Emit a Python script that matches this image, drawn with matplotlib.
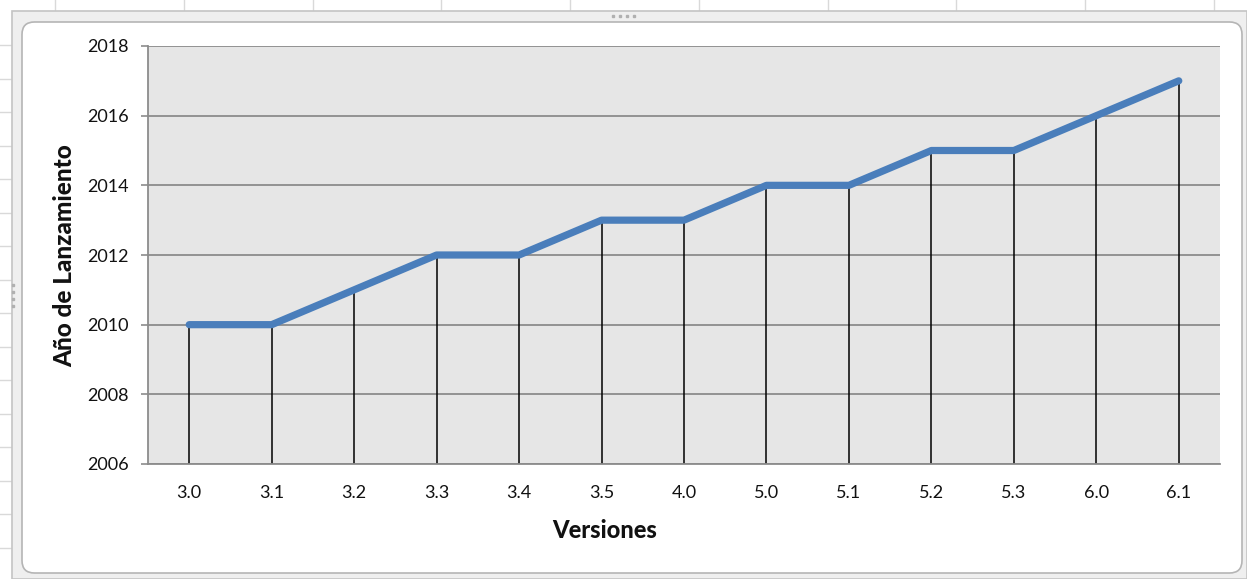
import matplotlib
matplotlib.use("Agg")
import matplotlib.pyplot as plt
from matplotlib.patches import FancyBboxPatch, Rectangle
from matplotlib.lines import Line2D

versiones = ["3.0", "3.1", "3.2", "3.3", "3.4", "3.5", "4.0",
             "5.0", "5.1", "5.2", "5.3", "6.0", "6.1"]
anios = [2010, 2010, 2011, 2012, 2012, 2013, 2013,
         2014, 2014, 2015, 2015, 2016, 2017]
y_ticks = [2006, 2008, 2010, 2012, 2014, 2016, 2018]

plt.rcParams["font.family"] = ["Lato", "DejaVu Sans"]

W, H = 1247, 579
fig = plt.figure(figsize=(W / 100, H / 100), dpi=100)
fig.patch.set_facecolor("white")


def fx(px):
    return px / W


def fy(py):
    return 1 - py / H


# spreadsheet cells peeking out around the chart object
grid_c = "#d9d9d9"
for k in range(10):
    x = 55 + 128.75 * k
    fig.add_artist(Line2D([fx(x), fx(x)], [fy(0), fy(11)], color=grid_c, lw=1, zorder=-3))
    fig.add_artist(Line2D([fx(x), fx(x)], [fy(575), fy(579)], color=grid_c, lw=1, zorder=-3))
for k in range(16):
    y = 45 + 33.5 * k
    fig.add_artist(Line2D([fx(0), fx(11)], [fy(y), fy(y)], color=grid_c, lw=1, zorder=-3))

# chart object frame
fig.add_artist(Rectangle((fx(12), fy(579)), fx(1247 - 12), (579 - 11) / H,
                         facecolor="#efefef", edgecolor="#c4c4c4", lw=1.2, zorder=-2))
fig.add_artist(FancyBboxPatch((fx(22), fy(573)), fx(1242 - 22), (573 - 22) / H,
                              boxstyle="round,pad=0,rounding_size=0.01",
                              facecolor="white", edgecolor="#b5b5b5", lw=1.2,
                              mutation_aspect=W / H, zorder=-1))
# selection handles
for (hx, hy) in [(613, 16), (620, 16), (627, 16), (634, 16)]:
    fig.add_artist(Line2D([fx(hx)], [fy(hy)], marker="s", ms=2, color="#b0b0b0", lw=0))
for (hx, hy) in [(13, 285), (13, 292), (13, 299), (13, 306)]:
    fig.add_artist(Line2D([fx(hx)], [fy(hy)], marker="s", ms=2, color="#b0b0b0", lw=0))

ax = fig.add_axes([fx(148), fy(464), fx(1220 - 148), (464 - 46) / H])
ax.set_zorder(5)
ax.set_facecolor("#e6e6e6")

x = list(range(len(versiones)))
ax.set_xlim(-0.5, len(versiones) - 0.5)
ax.set_ylim(y_ticks[0], y_ticks[-1])

ax.set_yticks(y_ticks)
ax.yaxis.grid(True, color="#8c8c8c", lw=1.3)
ax.set_axisbelow(True)

# drop lines from each point down to the category axis
ax.vlines(x, y_ticks[0], anios, colors="black", lw=1.1, zorder=2)
ax.plot(x, anios, color="#4a7ebb", lw=5.2, solid_capstyle="round",
        solid_joinstyle="round", zorder=3)

ax.set_xticks(x)
ax.set_xticklabels(versiones)
ax.tick_params(axis="x", length=0, pad=15, labelsize=13, colors="#111111")
ax.tick_params(axis="y", length=5, width=1.2, color="#8c8c8c", pad=9,
               labelsize=13, labelcolor="#111111")

for side in ("top", "right"):
    ax.spines[side].set_visible(False)
for side in ("left", "bottom"):
    ax.spines[side].set_color("#8c8c8c")
    ax.spines[side].set_linewidth(1.3)

fig.text(fx(65), fy(256), "Año de Lanzamiento", rotation=90, ha="center",
         va="center", fontsize=17.5, fontweight="black", color="#111111")
fig.text(fx(605), fy(531), "Versiones", ha="center", va="center",
         fontsize=17, fontweight="black", color="#111111")

fig.savefig("out.png", dpi=100)
